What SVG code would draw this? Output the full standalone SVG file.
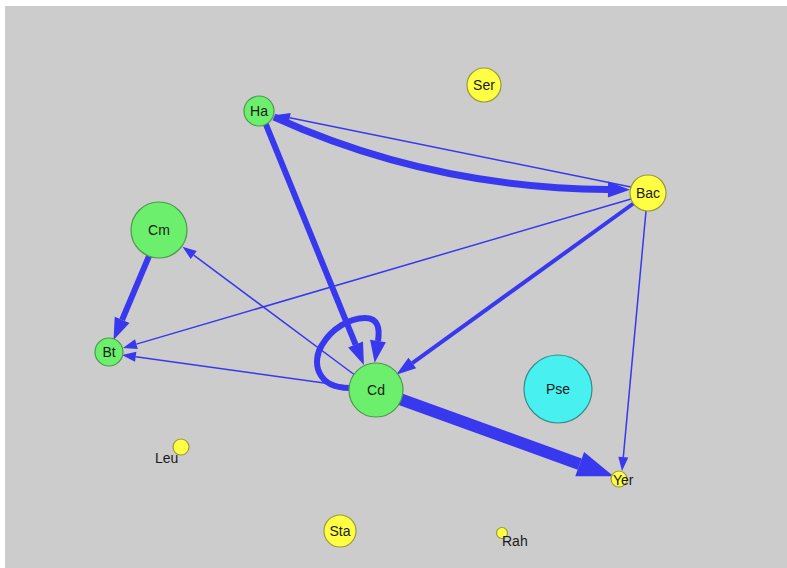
<svg xmlns="http://www.w3.org/2000/svg" width="787" height="568" viewBox="0 0 787 568">
<style>
.e{fill:none;stroke:#3838ee;stroke-linejoin:round}
.g{fill:#6cef6c;stroke:#4a9a4a;stroke-width:1.2}
.y{fill:#ffff44;stroke:#9a9a3a;stroke-width:1.2}
.c{fill:#48f0f0;stroke:#3a8a8a;stroke-width:1.2}
text{font-family:"Liberation Sans",Arial,sans-serif;font-size:14px;fill:#1a1a1a}
.m{text-anchor:middle}
</style>
<defs>
<marker id="a1" markerUnits="userSpaceOnUse" markerWidth="14" markerHeight="10" refX="0" refY="5" orient="auto" overflow="visible"><path d="M0,0 L14,5 L0,10 z" fill="#3838ee"/></marker>
<marker id="a2" markerUnits="userSpaceOnUse" markerWidth="20" markerHeight="13" refX="0" refY="6.5" orient="auto" overflow="visible"><path d="M0,0 L20,6.5 L0,13 z" fill="#3838ee"/></marker>
<marker id="a3" markerUnits="userSpaceOnUse" markerWidth="22" markerHeight="16" refX="0" refY="8" orient="auto" overflow="visible"><path d="M0,0 L22,8 L0,16 z" fill="#3838ee"/></marker>
<marker id="a4" markerUnits="userSpaceOnUse" markerWidth="36" markerHeight="26" refX="0" refY="13" orient="auto" overflow="visible"><path d="M0,0 L36,13 L0,26 z" fill="#3838ee"/></marker>
</defs>
<rect x="0" y="0" width="787" height="568" fill="#ffffff"/>
<rect x="5" y="6" width="782" height="562" fill="#cccccc"/>
<g id="connectors">
<path class="e" stroke-width="1.5" d="M631,187 L289.7,117.8" marker-end="url(#a1)"/>
<path class="e" stroke-width="7" d="M274,117 Q430,188 608,189.5" marker-end="url(#a3)"/>
<path class="e" stroke-width="1.5" d="M631,199 L136.4,344.1" marker-end="url(#a1)"/>
<path class="e" stroke-width="1.5" d="M646,211 L623.3,457.1" marker-end="url(#a1)"/>
<path class="e" stroke-width="1.5" d="M354.1,374.5 L193.7,255.1" marker-end="url(#a1)"/>
<path class="e" stroke-width="1.5" d="M349.3,386.4 L135.7,356.8" marker-end="url(#a1)"/>
<path class="e" stroke-width="4" d="M633.4,203.5 L412.3,363.1" marker-end="url(#a2)"/>
<path class="e" stroke-width="6" d="M265.7,123.9 L355.6,344.6" marker-end="url(#a3)"/>
<path class="e" stroke-width="6" d="M149.1,255.8 L122.1,319.8" marker-end="url(#a3)"/>
<path class="e" stroke-width="6" d="M350,388 C315,388 312,360 322,345 C332,328 350,318 365,318 C378,318 380,328 378,341" marker-end="url(#a3)"/>
<path class="e" stroke-width="12" d="M399.4,398.8 L579.7,464.1" marker-end="url(#a4)"/>
</g>
<g id="Ha"><circle class="g" cx="259" cy="111" r="15"/><text class="m" x="259" y="116">Ha</text></g>
<g id="Ser"><circle class="y" cx="484" cy="85" r="17"/><text class="m" x="484" y="90">Ser</text></g>
<g id="Bac"><circle class="y" cx="648" cy="193" r="18"/><text class="m" x="648" y="198">Bac</text></g>
<g id="Cm"><circle class="g" cx="159" cy="230" r="28"/><text class="m" x="159" y="235">Cm</text></g>
<g id="Bt"><circle class="g" cx="109" cy="352" r="14"/><text class="m" x="109" y="357">Bt</text></g>
<g id="Cd"><circle class="g" cx="376" cy="390" r="27"/><text class="m" x="376" y="395">Cd</text></g>
<g id="Pse"><circle class="c" cx="558" cy="389" r="34"/><text class="m" x="558" y="394">Pse</text></g>
<g id="Leu"><circle class="y" cx="181" cy="447" r="8"/><text x="155" y="463">Leu</text></g>
<g id="Yer"><circle class="y" cx="619" cy="479" r="8"/><text x="613" y="485">Yer</text></g>
<g id="Sta"><circle class="y" cx="340" cy="531" r="16"/><text class="m" x="340" y="536">Sta</text></g>
<g id="Rah"><circle class="y" cx="502" cy="533" r="5.5"/><text x="502" y="546">Rah</text></g>
</svg>
